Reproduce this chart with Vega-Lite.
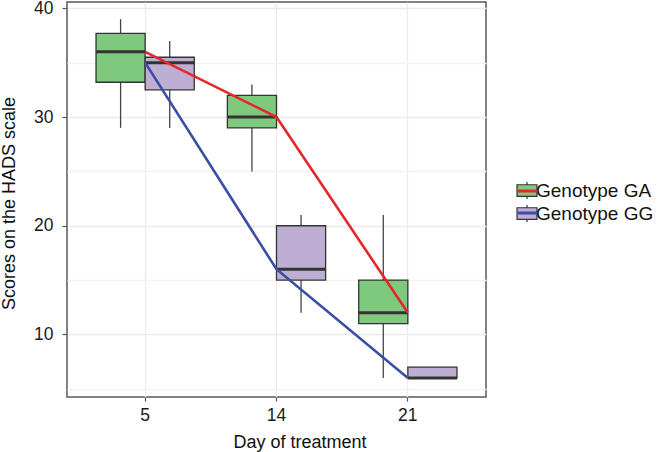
{
  "$schema": "https://vega.github.io/schema/vega-lite/v6.json",
  "width": 419,
  "height": 395,
  "autosize": {"type": "none"},
  "padding": {"left": 67, "top": 2, "right": 171, "bottom": 55},
  "background": "white",
  "config": {
    "font": "Liberation Sans",
    "view": {"stroke": "#5a5a5a", "strokeWidth": 1.5},
    "legend": {"padding": 0}
  },
  "data": {
    "values": [
      {"day": 5, "genotype": "Genotype GA", "min": 29, "q1": 33.2, "median": 36, "q3": 37.7, "max": 39},
      {"day": 14, "genotype": "Genotype GA", "min": 25, "q1": 29, "median": 30, "q3": 32, "max": 33},
      {"day": 21, "genotype": "Genotype GA", "min": 6, "q1": 11, "median": 12, "q3": 15, "max": 21},
      {"day": 5, "genotype": "Genotype GG", "min": 29, "q1": 32.5, "median": 35, "q3": 35.5, "max": 37},
      {"day": 14, "genotype": "Genotype GG", "min": 12, "q1": 15, "median": 16, "q3": 20, "max": 21},
      {"day": 21, "genotype": "Genotype GG", "min": 6, "q1": 6, "median": 6, "q3": 7, "max": 7}
    ]
  },
  "encoding": {
    "x": {
      "field": "day",
      "type": "ordinal",
      "scale": {"type": "band", "paddingInner": 0.252, "paddingOuter": 0.221},
      "axis": {
        "title": "Day of treatment",
        "titleFontSize": 18,
        "titleFontWeight": "normal",
        "titleColor": "#111",
        "titleX": 232.5,
        "titleY": 50.7,
        "titleBaseline": "alphabetic",
        "titleAlign": "center",
        "labelAngle": 0,
        "labelFontSize": 17.5,
        "labelColor": "#1a1a1a",
        "labelPadding": 5,
        "tickSize": 4,
        "tickColor": "#555",
        "tickWidth": 1.2,
        "domain": false,
        "grid": true,
        "gridColor": "#ebebeb",
        "gridWidth": 1.3
      }
    }
  },
  "layer": [
    {
      "mark": {"type": "rule", "color": "#444", "strokeWidth": 1.3},
      "encoding": {
        "xOffset": {"field": "genotype", "scale": {"paddingInner": 0, "paddingOuter": 0}},
        "y": {
          "field": "min",
          "type": "quantitative",
          "title": "Scores on the HADS scale",
          "scale": {"domain": [4.25, 40.58], "nice": false, "zero": false},
          "axis": {
            "values": [5, 10, 15, 20, 25, 30, 35, 40],
            "labelExpr": "datum.value % 10 === 0 ? datum.label : ''",
            "labelFontSize": 17.5,
            "labelColor": "#1a1a1a",
            "labelPadding": 9,
            "tickSize": 5,
            "tickColor": "#555",
            "tickWidth": 1.2,
            "tickOpacity": {"condition": {"test": "datum.value % 10 === 0", "value": 1}, "value": 0},
            "gridColor": {"condition": {"test": "datum.value % 10 === 0", "value": "#ebebeb"}, "value": "#f3f3f3"},
            "gridWidth": 1.3,
            "domain": false,
            "titleFontSize": 18,
            "titleFontWeight": "normal",
            "titleColor": "#111",
            "titleAngle": 270,
            "titleX": -52.5,
            "titleY": 201,
            "titleAlign": "center",
            "titleBaseline": "alphabetic"
          }
        },
        "y2": {"field": "max"}
      }
    },
    {
      "mark": {"type": "bar", "stroke": "#333", "strokeWidth": 1.3},
      "encoding": {
        "xOffset": {"field": "genotype"},
        "y": {"field": "q1", "type": "quantitative", "title": "Scores on the HADS scale"},
        "y2": {"field": "q3"},
        "fill": {
          "field": "genotype",
          "type": "nominal",
          "scale": {"range": ["#7fc97f", "#beaed4"]},
          "legend": {
            "orient": "none",
            "legendX": 448.5,
            "legendY": 177,
            "title": null,
            "symbolType": "M-0.95,-0.55H0.95V0.55H-0.95Z M0,-0.8V-0.55 M0,0.55V0.8",
            "symbolSize": 441,
            "symbolStrokeColor": "#333",
            "symbolStrokeWidth": 1.2,
            "symbolOpacity": 1,
            "labelFontSize": 19,
            "labelColor": "#111",
            "labelOffset": -2.5,
            "rowPadding": -8,
            "zindex": 1
          }
        }
      }
    },
    {
      "mark": {"type": "bar", "fillOpacity": 0, "stroke": "#333", "strokeWidth": 3},
      "encoding": {
        "xOffset": {"field": "genotype"},
        "y": {"field": "median", "type": "quantitative", "title": "Scores on the HADS scale"},
        "y2": {"field": "median"}
      }
    },
    {
      "mark": {"type": "line", "strokeWidth": 2.6},
      "encoding": {
        "y": {"field": "median", "type": "quantitative", "title": "Scores on the HADS scale"},
        "stroke": {
          "field": "genotype",
          "type": "nominal",
          "scale": {"domain": ["Genotype GA", "Genotype GG"], "range": ["#e5262a", "#3b4ea5"]},
          "legend": {
            "orient": "none",
            "legendX": 448.5,
            "legendY": 177,
            "title": null,
            "symbolType": "M-0.95,0H0.95",
            "symbolSize": 441,
            "symbolStrokeWidth": 3,
            "labelFontSize": 19,
            "labelOpacity": 0,
            "labelOffset": -2.5,
            "rowPadding": -8,
            "zindex": 2
          }
        }
      }
    }
  ]
}
